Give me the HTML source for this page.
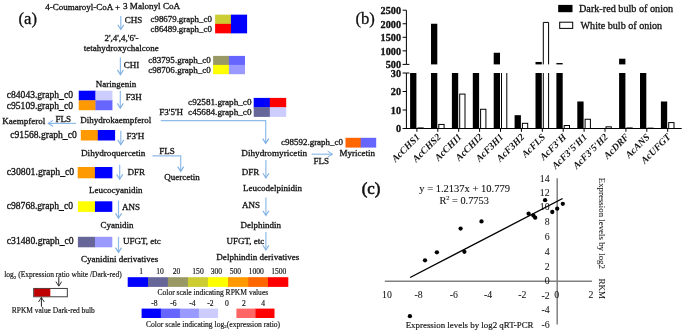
<!DOCTYPE html>
<html><head><meta charset="utf-8"><style>
html,body{margin:0;padding:0;background:#fff;}
svg{display:block;font-family:"Liberation Serif",serif;will-change:transform;}
text{fill:#111;stroke:#111;stroke-width:0.3px;}
</style></head><body>
<svg width="685" height="333" viewBox="0 0 685 333">
<rect width="685" height="333" fill="#fff"/>
<text x="18.50" y="23.80" font-size="16.7">(a)</text>
<text x="45.30" y="9.70" font-size="9">4-Coumaroyl-CoA + </text>
<text x="123.00" y="9.30" font-size="9.1">3 Malonyl CoA</text>
<line x1="120.80" y1="15.90" x2="120.80" y2="29.00" stroke="#8fbbe8" stroke-width="1.2"/>
<path d="M117.80,24.70 L120.80,29.50 L123.80,24.70" stroke="#7eaee3" stroke-width="1.1" fill="none"/>
<text x="124.70" y="23.10" font-size="9">CHS</text>
<text x="150.50" y="21.80" font-size="8.89">c98679.graph_c0</text>
<text x="150.50" y="31.70" font-size="8.89">c86489.graph_c0</text>
<rect x="215.10" y="14.65" width="16.15" height="9.50" fill="#cccc33"/>
<rect x="230.95" y="14.65" width="16.15" height="9.50" fill="#0000ff"/>
<rect x="215.10" y="23.85" width="16.15" height="9.50" fill="#ff0000"/>
<rect x="230.95" y="23.85" width="16.15" height="9.50" fill="#0000ff"/>
<text x="121.50" y="40.70" font-size="9" text-anchor="middle">2',4',4,'6'-</text>
<text x="121.30" y="50.90" font-size="9" text-anchor="middle">tetahydroxychalcone</text>
<line x1="120.40" y1="57.50" x2="120.40" y2="74.20" stroke="#8fbbe8" stroke-width="1.2"/>
<path d="M117.40,69.90 L120.40,74.70 L123.40,69.90" stroke="#7eaee3" stroke-width="1.1" fill="none"/>
<text x="123.70" y="68.10" font-size="9">CHI</text>
<text x="148.30" y="62.80" font-size="9.04">c83795.graph_c0</text>
<text x="148.30" y="73.30" font-size="9.04">c98706.graph_c0</text>
<rect x="213.10" y="55.90" width="16.10" height="9.30" fill="#999966"/>
<rect x="228.90" y="55.90" width="16.10" height="9.30" fill="#6666ff"/>
<rect x="213.10" y="64.90" width="16.10" height="9.30" fill="#ffff00"/>
<rect x="228.90" y="64.90" width="16.10" height="9.30" fill="#9999ff"/>
<text x="115.90" y="87.00" font-size="9" text-anchor="middle">Naringenin</text>
<text x="6.80" y="97.60" font-size="9.57">c84043.graph_c0</text>
<text x="6.80" y="108.60" font-size="9.57">c95109.graph_c0</text>
<rect x="78.75" y="90.70" width="17.00" height="9.90" fill="#0000ff"/>
<rect x="95.45" y="90.70" width="17.00" height="9.90" fill="#ccccff"/>
<rect x="78.75" y="100.30" width="17.00" height="9.90" fill="#ff9900"/>
<rect x="95.45" y="100.30" width="17.00" height="9.90" fill="#6666ff"/>
<line x1="120.30" y1="90.80" x2="120.30" y2="107.70" stroke="#8fbbe8" stroke-width="1.2"/>
<path d="M117.30,103.40 L120.30,108.20 L123.30,103.40" stroke="#7eaee3" stroke-width="1.1" fill="none"/>
<text x="125.70" y="100.30" font-size="9">F3H</text>
<text x="2.20" y="124.20" font-size="9">Kaempferol</text>
<line x1="76.00" y1="123.40" x2="48.50" y2="123.40" stroke="#8fbbe8" stroke-width="1.2"/>
<path d="M53.10,120.40 L48.30,123.40 L53.10,126.40" stroke="#7eaee3" stroke-width="1.1" fill="none"/>
<text x="55.60" y="121.60" font-size="9">FLS</text>
<text x="80.30" y="123.40" font-size="9">Dihydrokaempferol</text>
<text x="159.30" y="114.60" font-size="9">F3'5'H</text>
<text x="188.10" y="104.90" font-size="9.18">c92581.graph_c0</text>
<text x="188.10" y="115.30" font-size="9.18">c45684.graph_c0</text>
<rect x="253.70" y="97.90" width="16.40" height="9.65" fill="#0000ff"/>
<rect x="269.80" y="97.90" width="16.40" height="9.65" fill="#ff0000"/>
<rect x="253.70" y="107.25" width="16.40" height="9.65" fill="#666699"/>
<rect x="269.80" y="107.25" width="16.40" height="9.65" fill="#ccccff"/>
<path d="M160.8,120.6 L265.7,120.6 L265.7,143.0" stroke="#8fbbe8" stroke-width="1.2" fill="none"/>
<path d="M262.70,138.60 L265.70,143.40 L268.70,138.60" stroke="#7eaee3" stroke-width="1.1" fill="none"/>
<text x="10.30" y="138.00" font-size="9.62">c91568.graph_c0</text>
<rect x="80.80" y="130.00" width="17.30" height="10.50" fill="#ff9900"/>
<rect x="97.80" y="130.00" width="17.30" height="10.50" fill="#0000ff"/>
<line x1="120.80" y1="130.80" x2="120.80" y2="144.20" stroke="#8fbbe8" stroke-width="1.2"/>
<path d="M117.80,139.90 L120.80,144.70 L123.80,139.90" stroke="#7eaee3" stroke-width="1.1" fill="none"/>
<text x="126.50" y="138.90" font-size="9">F3'H</text>
<text x="81.00" y="156.30" font-size="9.15">Dihydroquercetin</text>
<path d="M152.4,155.9 L180.7,155.9 L180.7,171.2" stroke="#8fbbe8" stroke-width="1.2" fill="none"/>
<path d="M177.70,166.60 L180.70,171.40 L183.70,166.60" stroke="#7eaee3" stroke-width="1.1" fill="none"/>
<text x="159.30" y="153.60" font-size="9">FLS</text>
<text x="164.30" y="180.30" font-size="9">Quercetin</text>
<text x="241.30" y="156.40" font-size="9.2">Dihydromyricetin</text>
<line x1="311.50" y1="154.20" x2="332.50" y2="154.20" stroke="#8fbbe8" stroke-width="1.2"/>
<path d="M327.70,151.20 L332.50,154.20 L327.70,157.20" stroke="#7eaee3" stroke-width="1" fill="none"/>
<text x="313.60" y="164.00" font-size="9">FLS</text>
<text x="281.00" y="145.20" font-size="8.97">c98592.graph_c0</text>
<rect x="345.50" y="137.80" width="15.50" height="9.80" fill="#ff6600"/>
<rect x="360.70" y="137.80" width="15.50" height="9.80" fill="#6666ff"/>
<text x="339.50" y="156.30" font-size="9">Myricetin</text>
<text x="6.80" y="174.90" font-size="9.76">c30801.graph_c0</text>
<rect x="77.70" y="167.00" width="17.50" height="11.30" fill="#ff9900"/>
<rect x="94.90" y="167.00" width="17.50" height="11.30" fill="#0000ff"/>
<line x1="119.70" y1="164.80" x2="119.70" y2="178.70" stroke="#8fbbe8" stroke-width="1.2"/>
<path d="M116.70,174.40 L119.70,179.20 L122.70,174.40" stroke="#7eaee3" stroke-width="1.1" fill="none"/>
<text x="127.60" y="174.90" font-size="9">DFR</text>
<text x="89.00" y="193.00" font-size="9">Leucocyanidin</text>
<line x1="265.90" y1="160.00" x2="265.90" y2="177.50" stroke="#8fbbe8" stroke-width="1.2"/>
<path d="M262.90,173.20 L265.90,178.00 L268.90,173.20" stroke="#7eaee3" stroke-width="1.1" fill="none"/>
<text x="241.70" y="175.40" font-size="9">DFR</text>
<text x="243.00" y="190.60" font-size="9">Leucodelpinidin</text>
<text x="6.80" y="208.70" font-size="9.57">c98768.graph_c0</text>
<rect x="77.90" y="201.30" width="17.35" height="10.60" fill="#ffff00"/>
<rect x="94.95" y="201.30" width="17.35" height="10.60" fill="#0000ff"/>
<line x1="118.50" y1="200.60" x2="118.50" y2="217.70" stroke="#8fbbe8" stroke-width="1.2"/>
<path d="M115.50,213.40 L118.50,218.20 L121.50,213.40" stroke="#7eaee3" stroke-width="1.1" fill="none"/>
<text x="122.00" y="210.40" font-size="9">ANS</text>
<text x="100.50" y="228.30" font-size="9">Cyanidin</text>
<line x1="265.90" y1="197.50" x2="265.90" y2="215.00" stroke="#8fbbe8" stroke-width="1.2"/>
<path d="M262.90,210.70 L265.90,215.50 L268.90,210.70" stroke="#7eaee3" stroke-width="1.1" fill="none"/>
<text x="242.00" y="208.00" font-size="9">ANS</text>
<text x="240.60" y="228.10" font-size="9">Delphindin</text>
<text x="6.80" y="243.80" font-size="9.69">c31480.graph_c0</text>
<rect x="77.90" y="236.80" width="17.35" height="10.50" fill="#666699"/>
<rect x="94.95" y="236.80" width="17.35" height="10.50" fill="#9999ff"/>
<line x1="118.50" y1="236.80" x2="118.50" y2="251.90" stroke="#8fbbe8" stroke-width="1.2"/>
<path d="M115.50,247.60 L118.50,252.40 L121.50,247.60" stroke="#7eaee3" stroke-width="1.1" fill="none"/>
<text x="123.00" y="244.30" font-size="9">UFGT, etc</text>
<text x="81.00" y="261.80" font-size="9">Cyanidini derivatives</text>
<line x1="265.90" y1="232.00" x2="265.90" y2="249.50" stroke="#8fbbe8" stroke-width="1.2"/>
<path d="M262.90,245.20 L265.90,250.00 L268.90,245.20" stroke="#7eaee3" stroke-width="1.1" fill="none"/>
<text x="226.50" y="243.50" font-size="9">UFGT, etc</text>
<text x="216.30" y="259.80" font-size="9.1">Delphindin derivatives</text>
<text x="4.20" y="277.20" font-size="7.5" style="stroke-width:0.15px">log<tspan font-size="5" dy="1.5">2</tspan><tspan dy="-1.5"> (Expression ratio white /Dark-red)</tspan></text>
<line x1="58.80" y1="277.00" x2="58.80" y2="286.00" stroke="#222" stroke-width="1"/>
<path d="M55.90,281.60 L58.80,286.20 L61.70,281.60" stroke="#222" stroke-width="0.9" fill="none"/>
<rect x="33.70" y="288.40" width="33.60" height="8.40" fill="#fff" stroke="#2a2a2a" stroke-width="0.9"/>
<rect x="34.10" y="288.80" width="16.20" height="7.60" fill="#c00000"/>
<line x1="41.40" y1="297.50" x2="41.40" y2="306.70" stroke="#222" stroke-width="1"/>
<path d="M38.50,302.00 L41.40,297.40 L44.30,302.00" stroke="#222" stroke-width="0.9" fill="none"/>
<text x="11.80" y="312.80" font-size="7.46" style="stroke-width:0.15px">RPKM value Dark-red bulb</text>
<rect x="127.70" y="277.20" width="20.60" height="9.70" fill="#0000ff"/>
<rect x="148.00" y="277.20" width="20.10" height="9.70" fill="#666699"/>
<rect x="167.80" y="277.20" width="20.40" height="9.70" fill="#999966"/>
<rect x="187.90" y="277.20" width="20.30" height="9.70" fill="#cccc33"/>
<rect x="207.90" y="277.20" width="20.40" height="9.70" fill="#ffff00"/>
<rect x="228.00" y="277.20" width="20.40" height="9.70" fill="#ff9900"/>
<rect x="248.10" y="277.20" width="20.20" height="9.70" fill="#ff6600"/>
<rect x="268.00" y="277.20" width="20.30" height="9.70" fill="#ff0000"/>
<text x="141.10" y="274.20" font-size="7.6" style="stroke-width:0.15px" text-anchor="middle">1</text>
<text x="160.10" y="274.20" font-size="7.6" style="stroke-width:0.15px" text-anchor="middle">10</text>
<text x="176.50" y="274.20" font-size="7.6" style="stroke-width:0.15px" text-anchor="middle">20</text>
<text x="198.00" y="274.20" font-size="7.6" style="stroke-width:0.15px" text-anchor="middle">150</text>
<text x="216.40" y="274.20" font-size="7.6" style="stroke-width:0.15px" text-anchor="middle">300</text>
<text x="235.40" y="274.20" font-size="7.6" style="stroke-width:0.15px" text-anchor="middle">500</text>
<text x="256.20" y="274.20" font-size="7.6" style="stroke-width:0.15px" text-anchor="middle">1000</text>
<text x="278.80" y="274.20" font-size="7.6" style="stroke-width:0.15px" text-anchor="middle">1500</text>
<text x="157.50" y="294.80" font-size="7.55" style="stroke-width:0.15px">Color scale indicating RPKM values</text>
<rect x="141.60" y="308.60" width="19.50" height="9.40" fill="#0000ff"/>
<rect x="160.80" y="308.60" width="19.40" height="9.40" fill="#6666ff"/>
<rect x="179.90" y="308.60" width="19.30" height="9.40" fill="#9999ff"/>
<rect x="198.90" y="308.60" width="19.20" height="9.40" fill="#ccccff"/>
<rect x="236.40" y="308.60" width="19.30" height="9.40" fill="#ff6666"/>
<rect x="255.40" y="308.60" width="19.10" height="9.40" fill="#ff0000"/>
<text x="154.30" y="305.50" font-size="7.6" style="stroke-width:0.15px" text-anchor="middle">-8</text>
<text x="173.30" y="305.50" font-size="7.6" style="stroke-width:0.15px" text-anchor="middle">-6</text>
<text x="192.40" y="305.50" font-size="7.6" style="stroke-width:0.15px" text-anchor="middle">-4</text>
<text x="210.50" y="305.50" font-size="7.6" style="stroke-width:0.15px" text-anchor="middle">-2</text>
<text x="227.00" y="305.50" font-size="7.6" style="stroke-width:0.15px" text-anchor="middle">0</text>
<text x="243.80" y="305.50" font-size="7.6" style="stroke-width:0.15px" text-anchor="middle">2</text>
<text x="263.10" y="305.50" font-size="7.6" style="stroke-width:0.15px" text-anchor="middle">4</text>
<text x="146.00" y="326.70" font-size="7.6" style="stroke-width:0.15px">Color scale indicating log<tspan font-size="5" dy="1.5">2</tspan><tspan dy="-1.5">(expression ratio)</tspan></text>
<text x="355.40" y="23.80" font-size="16.7">(b)</text>
<line x1="406.40" y1="10.20" x2="406.40" y2="64.40" stroke="#000" stroke-width="1"/>
<line x1="402.60" y1="10.20" x2="406.40" y2="10.20" stroke="#000" stroke-width="1"/>
<text x="401.00" y="14.10" font-size="9.6" text-anchor="end" font-weight="bold" textLength="20.40" lengthAdjust="spacingAndGlyphs">2500</text>
<line x1="402.60" y1="23.75" x2="406.40" y2="23.75" stroke="#000" stroke-width="1"/>
<text x="401.00" y="27.65" font-size="9.6" text-anchor="end" font-weight="bold" textLength="20.40" lengthAdjust="spacingAndGlyphs">2000</text>
<line x1="402.60" y1="37.30" x2="406.40" y2="37.30" stroke="#000" stroke-width="1"/>
<text x="401.00" y="41.20" font-size="9.6" text-anchor="end" font-weight="bold" textLength="20.40" lengthAdjust="spacingAndGlyphs">1500</text>
<line x1="402.60" y1="50.85" x2="406.40" y2="50.85" stroke="#000" stroke-width="1"/>
<text x="401.00" y="54.75" font-size="9.6" text-anchor="end" font-weight="bold" textLength="20.40" lengthAdjust="spacingAndGlyphs">1000</text>
<line x1="402.60" y1="64.40" x2="406.40" y2="64.40" stroke="#000" stroke-width="1"/>
<text x="401.00" y="68.30" font-size="9.6" text-anchor="end" font-weight="bold" textLength="15.30" lengthAdjust="spacingAndGlyphs">500</text>
<line x1="406.40" y1="64.40" x2="409.40" y2="64.40" stroke="#000" stroke-width="1"/>
<line x1="406.40" y1="73.00" x2="406.40" y2="128.50" stroke="#000" stroke-width="1"/>
<line x1="402.60" y1="73.00" x2="406.40" y2="73.00" stroke="#000" stroke-width="1"/>
<text x="401.00" y="76.90" font-size="9.6" text-anchor="end" font-weight="bold" textLength="10.20" lengthAdjust="spacingAndGlyphs">30</text>
<line x1="402.60" y1="91.50" x2="406.40" y2="91.50" stroke="#000" stroke-width="1"/>
<text x="401.00" y="95.40" font-size="9.6" text-anchor="end" font-weight="bold" textLength="10.20" lengthAdjust="spacingAndGlyphs">20</text>
<line x1="402.60" y1="110.00" x2="406.40" y2="110.00" stroke="#000" stroke-width="1"/>
<text x="401.00" y="113.90" font-size="9.6" text-anchor="end" font-weight="bold" textLength="10.20" lengthAdjust="spacingAndGlyphs">10</text>
<line x1="402.60" y1="128.50" x2="406.40" y2="128.50" stroke="#000" stroke-width="1"/>
<text x="401.00" y="132.40" font-size="9.6" text-anchor="end" font-weight="bold" textLength="5.10" lengthAdjust="spacingAndGlyphs">0</text>
<line x1="406.40" y1="73.00" x2="409.40" y2="73.00" stroke="#000" stroke-width="1"/>
<line x1="405.90" y1="128.50" x2="681.70" y2="128.50" stroke="#000" stroke-width="1"/>
<rect x="410.10" y="73.00" width="6.30" height="55.50" fill="#000"/>
<rect x="417.90" y="127.94" width="5.30" height="0.56" fill="#fff" stroke="#000" stroke-width="1"/>
<line x1="416.90" y1="128.50" x2="416.90" y2="131.80" stroke="#000" stroke-width="1"/>
<text x="420.50" y="137.60" font-size="9.8" style="stroke-width:0px" text-anchor="end" font-weight="bold" font-style="italic" transform="rotate(-45 420.50 137.6)">AcCHS1</text>
<rect x="431.00" y="73.00" width="6.30" height="55.50" fill="#000"/>
<rect x="431.00" y="23.75" width="6.30" height="40.65" fill="#000"/>
<rect x="438.80" y="124.43" width="5.30" height="4.07" fill="#fff" stroke="#000" stroke-width="1"/>
<line x1="437.80" y1="128.50" x2="437.80" y2="131.80" stroke="#000" stroke-width="1"/>
<text x="441.40" y="137.60" font-size="9.8" style="stroke-width:0px" text-anchor="end" font-weight="bold" font-style="italic" transform="rotate(-45 441.40 137.6)">AcCHS2</text>
<rect x="451.90" y="73.00" width="6.30" height="55.50" fill="#000"/>
<rect x="459.70" y="94.09" width="5.30" height="34.41" fill="#fff" stroke="#000" stroke-width="1"/>
<line x1="458.70" y1="128.50" x2="458.70" y2="131.80" stroke="#000" stroke-width="1"/>
<text x="462.30" y="137.60" font-size="9.8" style="stroke-width:0px" text-anchor="end" font-weight="bold" font-style="italic" transform="rotate(-45 462.30 137.6)">AcCHI1</text>
<rect x="472.80" y="73.00" width="6.30" height="55.50" fill="#000"/>
<rect x="480.60" y="109.26" width="5.30" height="19.24" fill="#fff" stroke="#000" stroke-width="1"/>
<line x1="479.60" y1="128.50" x2="479.60" y2="131.80" stroke="#000" stroke-width="1"/>
<text x="483.20" y="137.60" font-size="9.8" style="stroke-width:0px" text-anchor="end" font-weight="bold" font-style="italic" transform="rotate(-45 483.20 137.6)">AcCHI2</text>
<rect x="493.70" y="73.00" width="6.30" height="55.50" fill="#000"/>
<rect x="493.70" y="52.75" width="6.30" height="11.65" fill="#000"/>
<path d="M501.50,128.5 L501.50,73 M506.80,73 L506.80,128.5" stroke="#000" stroke-width="1" fill="none"/>
<line x1="500.50" y1="128.50" x2="500.50" y2="131.80" stroke="#000" stroke-width="1"/>
<text x="504.10" y="137.60" font-size="9.8" style="stroke-width:0px" text-anchor="end" font-weight="bold" font-style="italic" transform="rotate(-45 504.10 137.6)">AcF3H1</text>
<rect x="514.60" y="115.18" width="6.30" height="13.32" fill="#000"/>
<rect x="522.40" y="123.32" width="5.30" height="5.18" fill="#fff" stroke="#000" stroke-width="1"/>
<line x1="521.40" y1="128.50" x2="521.40" y2="131.80" stroke="#000" stroke-width="1"/>
<text x="525.00" y="137.60" font-size="9.8" style="stroke-width:0px" text-anchor="end" font-weight="bold" font-style="italic" transform="rotate(-45 525.00 137.6)">AcF3H2</text>
<rect x="535.50" y="73.00" width="6.30" height="55.50" fill="#000"/>
<rect x="535.50" y="61.96" width="6.30" height="2.44" fill="#000"/>
<path d="M543.30,128.5 L543.30,73 M548.60,73 L548.60,128.5" stroke="#000" stroke-width="1" fill="none"/>
<path d="M543.30,64.4 L543.30,22.40 L548.60,22.40 L548.60,64.4" stroke="#000" stroke-width="1" fill="none"/>
<line x1="542.30" y1="128.50" x2="542.30" y2="131.80" stroke="#000" stroke-width="1"/>
<text x="545.90" y="137.60" font-size="9.8" style="stroke-width:0px" text-anchor="end" font-weight="bold" font-style="italic" transform="rotate(-45 545.90 137.6)">AcFLS</text>
<rect x="556.40" y="73.00" width="6.30" height="55.50" fill="#000"/>
<rect x="556.40" y="63.05" width="6.30" height="1.35" fill="#000"/>
<rect x="564.20" y="125.54" width="5.30" height="2.96" fill="#fff" stroke="#000" stroke-width="1"/>
<line x1="563.20" y1="128.50" x2="563.20" y2="131.80" stroke="#000" stroke-width="1"/>
<text x="566.80" y="137.60" font-size="9.8" style="stroke-width:0px" text-anchor="end" font-weight="bold" font-style="italic" transform="rotate(-45 566.80 137.6)">AcF3&#39;H</text>
<rect x="577.30" y="101.49" width="6.30" height="27.01" fill="#000"/>
<rect x="585.10" y="119.25" width="5.30" height="9.25" fill="#fff" stroke="#000" stroke-width="1"/>
<line x1="584.10" y1="128.50" x2="584.10" y2="131.80" stroke="#000" stroke-width="1"/>
<text x="587.70" y="137.60" font-size="9.8" style="stroke-width:0px" text-anchor="end" font-weight="bold" font-style="italic" transform="rotate(-45 587.70 137.6)">AcF3&#39;5&#39;H1</text>
<rect x="598.20" y="128.50" width="6.30" height="0.00" fill="#000"/>
<rect x="606.00" y="126.83" width="5.30" height="1.67" fill="#fff" stroke="#000" stroke-width="1"/>
<line x1="605.00" y1="128.50" x2="605.00" y2="131.80" stroke="#000" stroke-width="1"/>
<text x="608.60" y="137.60" font-size="9.8" style="stroke-width:0px" text-anchor="end" font-weight="bold" font-style="italic" transform="rotate(-45 608.60 137.6)">AcF3&#39;5&#39;H2</text>
<rect x="619.10" y="73.00" width="6.30" height="55.50" fill="#000"/>
<rect x="619.10" y="58.71" width="6.30" height="5.69" fill="#000"/>
<rect x="626.90" y="127.94" width="5.30" height="0.56" fill="#fff" stroke="#000" stroke-width="1"/>
<line x1="625.90" y1="128.50" x2="625.90" y2="131.80" stroke="#000" stroke-width="1"/>
<text x="629.50" y="137.60" font-size="9.8" style="stroke-width:0px" text-anchor="end" font-weight="bold" font-style="italic" transform="rotate(-45 629.50 137.6)">AcDRF</text>
<rect x="640.00" y="73.00" width="6.30" height="55.50" fill="#000"/>
<rect x="647.80" y="128.13" width="5.30" height="0.37" fill="#fff" stroke="#000" stroke-width="1"/>
<line x1="646.80" y1="128.50" x2="646.80" y2="131.80" stroke="#000" stroke-width="1"/>
<text x="650.40" y="137.60" font-size="9.8" style="stroke-width:0px" text-anchor="end" font-weight="bold" font-style="italic" transform="rotate(-45 650.40 137.6)">AcANS</text>
<rect x="660.90" y="101.49" width="6.30" height="27.01" fill="#000"/>
<rect x="668.70" y="122.58" width="5.30" height="5.92" fill="#fff" stroke="#000" stroke-width="1"/>
<line x1="667.70" y1="128.50" x2="667.70" y2="131.80" stroke="#000" stroke-width="1"/>
<text x="671.30" y="137.60" font-size="9.8" style="stroke-width:0px" text-anchor="end" font-weight="bold" font-style="italic" transform="rotate(-45 671.30 137.6)">AcUFGT</text>
<rect x="558.20" y="4.90" width="14.30" height="7.30" fill="#000"/>
<text x="579.00" y="12.40" font-size="10.2">Dark-red bulb of onion</text>
<rect x="559.70" y="22.20" width="13.00" height="6.20" fill="#fff" stroke="#000" stroke-width="1"/>
<text x="580.60" y="28.60" font-size="10.1">White bulb of onion</text>
<text x="361.70" y="194.40" font-size="16.9" style="stroke-width:0.6px">(c)</text>
<text x="419.30" y="192.30" font-size="10.5" style="stroke-width:0.1px">y = 1.2137x + 10.779</text>
<text x="439.40" y="203.60" font-size="10.3" style="stroke-width:0.1px">R<tspan font-size="6.5" dy="-3.5">2</tspan><tspan dy="3.5"> = 0.7753</tspan></text>
<line x1="384.80" y1="281.20" x2="592.00" y2="281.20" stroke="#808080" stroke-width="1.5"/>
<line x1="557.20" y1="178.20" x2="557.20" y2="324.60" stroke="#808080" stroke-width="1.5"/>
<text x="386.90" y="297.60" font-size="9.8" style="stroke-width:0.05px" text-anchor="middle">10</text>
<text x="418.50" y="297.60" font-size="9.8" style="stroke-width:0.05px" text-anchor="middle">-8</text>
<text x="453.90" y="297.60" font-size="9.8" style="stroke-width:0.05px" text-anchor="middle">-6</text>
<text x="488.20" y="297.60" font-size="9.8" style="stroke-width:0.05px" text-anchor="middle">-4</text>
<text x="522.30" y="297.60" font-size="9.8" style="stroke-width:0.05px" text-anchor="middle">-2</text>
<text x="556.60" y="297.60" font-size="9.8" style="stroke-width:0.05px" text-anchor="middle">0</text>
<text x="591.00" y="297.60" font-size="9.8" style="stroke-width:0.05px" text-anchor="middle">2</text>
<text x="549.60" y="181.90" font-size="9.8" style="stroke-width:0.05px" text-anchor="end">14</text>
<text x="549.60" y="195.70" font-size="9.8" style="stroke-width:0.05px" text-anchor="end">12</text>
<text x="549.60" y="210.40" font-size="9.8" style="stroke-width:0.05px" text-anchor="end">10</text>
<text x="549.60" y="225.20" font-size="9.8" style="stroke-width:0.05px" text-anchor="end">8</text>
<text x="549.60" y="239.90" font-size="9.8" style="stroke-width:0.05px" text-anchor="end">6</text>
<text x="549.60" y="254.60" font-size="9.8" style="stroke-width:0.05px" text-anchor="end">4</text>
<text x="549.60" y="269.60" font-size="9.8" style="stroke-width:0.05px" text-anchor="end">2</text>
<text x="549.60" y="284.30" font-size="9.8" style="stroke-width:0.05px" text-anchor="end">0</text>
<text x="549.60" y="299.40" font-size="9.8" style="stroke-width:0.05px" text-anchor="end">-2</text>
<text x="549.60" y="313.20" font-size="9.8" style="stroke-width:0.05px" text-anchor="end">-4</text>
<text x="549.60" y="327.70" font-size="9.8" style="stroke-width:0.05px" text-anchor="end">-6</text>
<line x1="410.10" y1="277.50" x2="562.60" y2="198.50" stroke="#000" stroke-width="1.4"/>
<circle cx="409.90" cy="316.20" r="2.15" fill="#000"/>
<circle cx="425.00" cy="260.30" r="2.15" fill="#000"/>
<circle cx="436.90" cy="252.30" r="2.15" fill="#000"/>
<circle cx="460.60" cy="228.60" r="2.15" fill="#000"/>
<circle cx="464.40" cy="251.80" r="2.15" fill="#000"/>
<circle cx="481.50" cy="221.40" r="2.15" fill="#000"/>
<circle cx="528.60" cy="213.70" r="2.15" fill="#000"/>
<circle cx="533.40" cy="215.50" r="2.15" fill="#000"/>
<circle cx="535.20" cy="217.70" r="2.15" fill="#000"/>
<circle cx="545.10" cy="200.20" r="2.15" fill="#000"/>
<circle cx="552.30" cy="212.00" r="2.15" fill="#000"/>
<circle cx="557.20" cy="208.70" r="2.15" fill="#000"/>
<circle cx="562.80" cy="203.80" r="2.15" fill="#000"/>
<text x="405.70" y="327.80" font-size="8.9" style="stroke-width:0.15px">Expression levels by log2 qRT-PCR</text>
<text x="599.00" y="177.80" font-size="8.85" style="stroke-width:0.05px" transform="rotate(90 599.0 177.8)">Expression levels by log2</text>
<text x="599.00" y="278.60" font-size="9" style="stroke-width:0.05px" transform="rotate(90 599.0 278.6)">RKM</text>
</svg>
</body></html>
